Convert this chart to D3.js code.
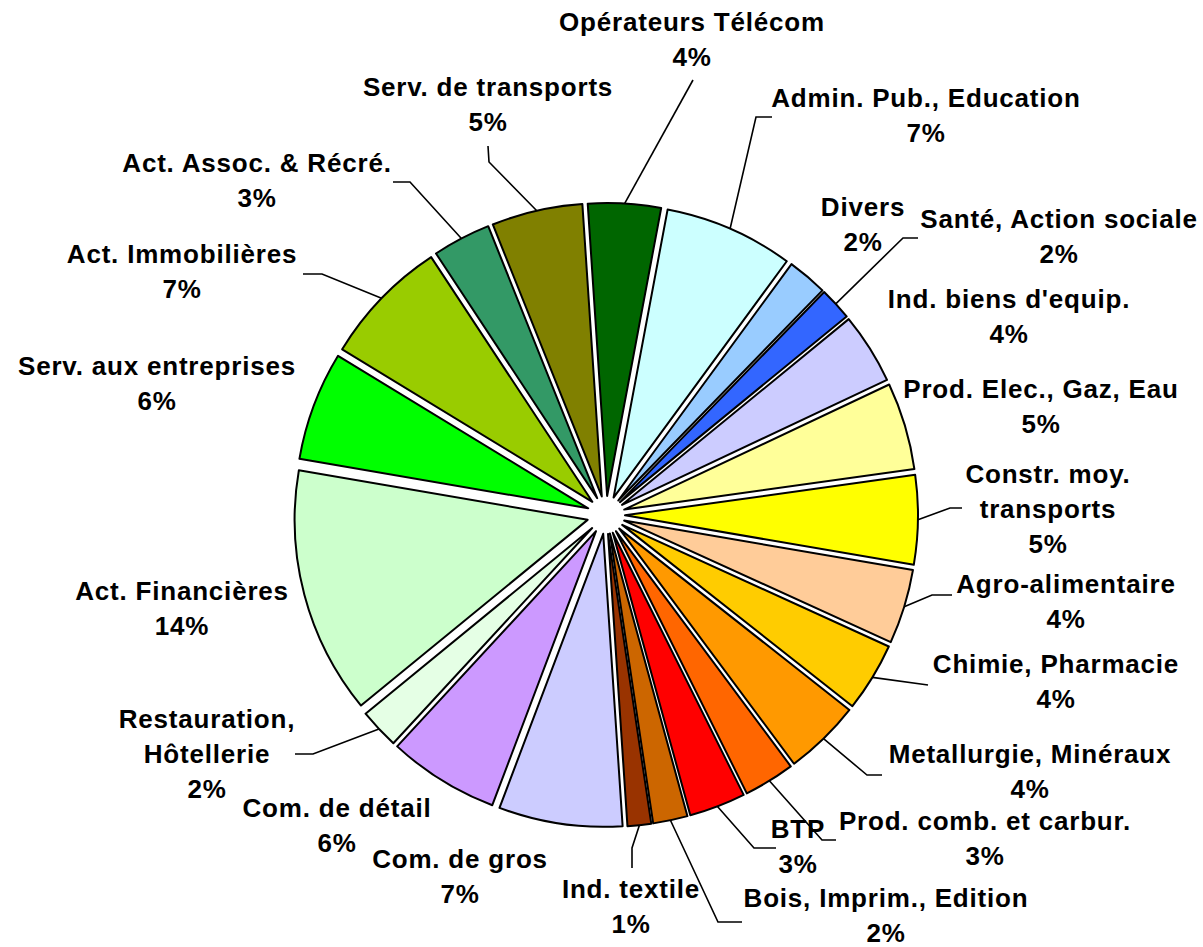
<!DOCTYPE html>
<html>
<head>
<meta charset="utf-8">
<script src="https://cdn.jsdelivr.net/npm/d3@7/dist/d3.min.js"></script>
<style>
  body { margin: 0; background: #fff; }
  .slice-label {
    font-family: "Liberation Sans", Arial, sans-serif;
    font-weight: bold;
    font-size: 26px;
    letter-spacing: 0.8px;
  }
</style>
</head>
<body>
<svg id="chart"></svg>
<script>
// sectors, clockwise from the top of the pie ("\n" = line break in the label)
const categories = [
  'Opérateurs Télécom', 'Admin. Pub., Education', 'Divers', 'Santé, Action sociale',
  "Ind. biens d'equip.", 'Prod. Elec., Gaz, Eau', 'Constr. moy.\ntransports', 'Agro-alimentaire',
  'Chimie, Pharmacie', 'Metallurgie, Minéraux', 'Prod. comb. et carbur.', 'BTP',
  'Bois, Imprim., Edition', 'Ind. textile', 'Com. de gros', 'Com. de détail',
  'Restauration,\nHôtellerie', 'Act. Financières', 'Serv. aux entreprises', 'Act. Immobilières',
  'Act. Assoc. & Récré.', 'Serv. de transports',
];

// share of each sector (%)
const values = [
  4.0, 7.1, 2.2, 1.8,
  3.9, 4.8, 4.9, 4.1,
  3.8, 4.2, 2.8, 3.1,
  1.9, 1.3, 6.8, 6.1,
  2.2, 13.6, 6.0, 7.0,
  3.2, 5.0,
];

const colors = [
  '#006600', '#CCFFFF', '#99CCFF', '#3366FF',
  '#CCCCFF', '#FFFF99', '#FFFF00', '#FFCC99',
  '#FFCC00', '#FF9900', '#FF6600', '#FF0000',
  '#CC6600', '#993300', '#CCCCFF', '#CC99FF',
  '#E5FFE5', '#CCFFCC', '#00FF00', '#99CC00',
  '#339966', '#808000',
];

// label placement: centre x, first baseline, leader line points after the slice edge
const labelLayout = [
  { x: 692, y: 31, leader: [[693, 80]] },
  { x: 926, y: 107, leader: [[756, 117], [772, 117]] },
  { x: 863, y: 216, leader: [] },
  { x: 1059, y: 228, leader: [[903, 238], [918, 238]] },
  { x: 1009, y: 308, leader: [] },
  { x: 1041, y: 398, leader: [] },
  { x: 1048, y: 483, leader: [[950, 508], [962, 508]] },
  { x: 1066, y: 593, leader: [[932, 595], [952, 595]] },
  { x: 1056, y: 673, leader: [[928, 685]] },
  { x: 1030, y: 763, leader: [[867, 775], [882, 775]] },
  { x: 985, y: 830, leader: [[822, 840], [836, 840]] },
  { x: 798, y: 838, leader: [[754, 848], [776, 848]] },
  { x: 886, y: 907, leader: [[718, 922], [742, 922]] },
  { x: 631, y: 898, leader: [[632, 848], [632, 868]] },
  { x: 460, y: 868, leader: [] },
  { x: 337, y: 817, leader: [] },
  { x: 207, y: 728, leader: [[313, 754], [295, 754]] },
  { x: 182, y: 600, leader: [] },
  { x: 157, y: 375, leader: [] },
  { x: 182, y: 263, leader: [[322, 274], [303, 274]] },
  { x: 257, y: 172, leader: [[410, 182], [393, 182]] },
  { x: 488, y: 96, leader: [[489, 162], [488, 146]] },
];

class ExplodedPie {
  constructor(_config, _data) {
    this.config = {
      parentElement: _config.parentElement,
      containerWidth: 1203,
      containerHeight: 947,
      cx: 606,
      cy: 515,
      radius: 293,
      explode: 19,
      startAngle: -3.8, // degrees, first slice begins a bit left of 12 o'clock
      lineHeight: 35,
    };
    this.data = _data;
    this.initVis();
  }

  initVis() {
    const vis = this;

    vis.svg = d3.select(vis.config.parentElement)
      .attr('width', vis.config.containerWidth)
      .attr('height', vis.config.containerHeight);

    vis.chart = vis.svg.append('g');
    vis.leaders = vis.chart.append('g');
    vis.slices = vis.chart.append('g');
    vis.labels = vis.chart.append('g');

    const start = vis.config.startAngle * Math.PI / 180;
    vis.pie = d3.pie()
      .sort(null)
      .value((d) => d.value)
      .startAngle(start)
      .endAngle(start + 2 * Math.PI);

    vis.arc = d3.arc()
      .innerRadius(0)
      .outerRadius(vis.config.radius);

    vis.updateVis();
  }

  updateVis() {
    const vis = this;
    vis.total = d3.sum(vis.data, (d) => d.value);
    vis.arcs = vis.pie(vis.data);
    vis.renderVis();
  }

  renderVis() {
    const vis = this;
    const { cx, cy, radius, explode } = vis.config;
    const mid = (a) => (a.startAngle + a.endAngle) / 2;

    // each slice pulled out along its bisector
    vis.slices.selectAll('.slice')
      .data(vis.arcs)
      .join('path')
      .attr('class', 'slice')
      .attr('transform', (a) => `translate(${cx + explode * Math.sin(mid(a))},${cy - explode * Math.cos(mid(a))})`)
      .attr('d', vis.arc)
      .attr('fill', (a) => a.data.color)
      .attr('stroke', '#000')
      .attr('stroke-width', 2)
      .attr('stroke-linejoin', 'round');

    // leader lines start on the outer edge of the slice
    vis.leaders.selectAll('.leader')
      .data(vis.arcs.filter((a) => a.data.layout.leader.length))
      .join('path')
      .attr('class', 'leader')
      .attr('fill', 'none')
      .attr('stroke', '#000')
      .attr('stroke-width', 1.6)
      .attr('d', (a) => {
        const r = radius + explode;
        const p0 = [cx + r * Math.sin(mid(a)), cy - r * Math.cos(mid(a))];
        return d3.line()([p0, ...a.data.layout.leader]);
      });

    const label = vis.labels.selectAll('.slice-label')
      .data(vis.arcs)
      .join('text')
      .attr('class', 'slice-label')
      .attr('text-anchor', 'middle')
      .attr('x', (a) => a.data.layout.x)
      .attr('y', (a) => a.data.layout.y);

    label.selectAll('tspan')
      .data((a) => [...a.data.name.split('\n'), `${Math.round(a.data.value / vis.total * 100)}%`]
        .map((t) => ({ t, x: a.data.layout.x })))
      .join('tspan')
      .attr('x', (d) => d.x)
      .attr('dy', (d, i) => (i === 0 ? 0 : vis.config.lineHeight))
      .text((d) => d.t);
  }
}

const pieData = categories.map((name, i) => ({
  name,
  value: values[i],
  color: colors[i],
  layout: labelLayout[i],
}));

const chart = new ExplodedPie({ parentElement: '#chart' }, pieData);
</script>
</body>
</html>
